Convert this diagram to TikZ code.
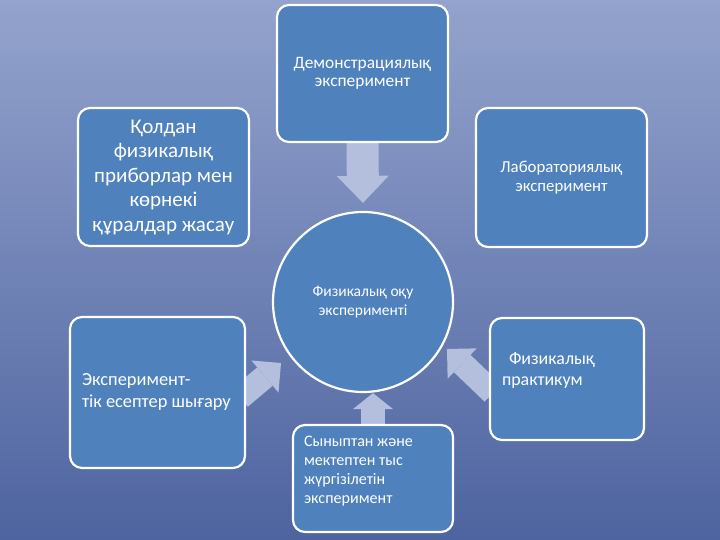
\documentclass[tikz,border=0pt]{standalone}
\usepackage{fontspec}
\setmainfont{Carlito}
\usetikzlibrary{arrows.meta, calc, positioning}
\definecolor{PanelBlue}{HTML}{4F81BD}
\definecolor{ArrowMist}{HTML}{B3BFDC}
\definecolor{SkyTop}{HTML}{94A3CD}
\definecolor{SkyBottom}{HTML}{4E64A0}
\pgfdeclarelayer{backdrop}
\pgfdeclarelayer{arrowlayer}
\pgfsetlayers{backdrop,arrowlayer,main}
\newcommand{\toptext}[5]{\parbox[c][#2][t]{#1}{\raggedright\leftskip=#4\relax\vspace*{#3}#5}}

\begin{document}
\begin{tikzpicture}[x=1pt, y=1pt,
    panel/.style={draw=white, line width=2.2pt, fill=PanelBlue, rounded corners=12pt,
                  text=white, inner sep=0pt},
    bigarrow/.style={draw=ArrowMist, line width=32pt,
                     -{Triangle[width=52pt, length=27pt, line width=0pt]}},
    smallarrow/.style={draw=ArrowMist, line width=24pt,
                       -{Triangle[width=42pt, length=21pt, line width=0pt]}},
    stubarrow/.style={draw=ArrowMist, line width=24pt,
                      -{Triangle[width=40pt, length=16pt, line width=0pt]}}]
    \useasboundingbox (0,0) rectangle (720,540);
    \begin{pgfonlayer}{backdrop}
        \shade[top color=SkyTop, bottom color=SkyBottom] (0,0) rectangle (720,540);
    \end{pgfonlayer}

    % centre and the six boxes
    \node[panel, circle, minimum size=180pt, align=center, font=\fontsize{15.5}{19}\selectfont] (hub) at (363,238)
        {Физикалық оқу\\эксперименті};
    \node[panel, minimum width=171pt, minimum height=137pt, align=center, font=\fontsize{17.4}{18.5}\selectfont] (demo) at (362.5,466.5)
        {Демонстрациялық\\эксперимент};
    \node[panel, minimum width=171pt, minimum height=138pt, align=center, font=\fontsize{21}{24.5}\selectfont] (tools) at (163.5,363)
        {Қолдан\\физикалық\\приборлар мен\\көрнекі\\құралдар жасау};
    \node[panel, minimum width=171pt, minimum height=139pt, align=center, font=\fontsize{16.8}{18.5}\selectfont] (lab) at (561.5,362.5)
        {Лабораториялық\\эксперимент};
    \node[panel, minimum width=175pt, minimum height=151pt] (tasks) at (157.5,147.5)
        {\toptext{175pt}{151pt}{57pt}{12pt}{\fontsize{18.4}{22}\selectfont Эксперимент-\\тік есептер шығару}};
    \node[panel, minimum width=154pt, minimum height=122pt] (prakt) at (567,161)
        {\toptext{154pt}{122pt}{34pt}{12pt}{\fontsize{17.9}{21.5}\selectfont\hspace*{7pt}Физикалық\\практикум}};
    \node[panel, minimum width=160pt, minimum height=107pt] (school) at (373,61.5)
        {\toptext{160pt}{107pt}{11pt}{11pt}{\fontsize{16.1}{19}\selectfont Сыныптан және\\мектептен тыс\\жүргізілетін\\эксперимент}};

    % block arrows towards the centre
    \begin{pgfonlayer}{arrowlayer}
        \draw[bigarrow] (demo.south) -- ($(hub.north)+(0,8)$);
        \draw[bigarrow, shorten <=78pt, shorten >=97pt] (tools) -- (hub);
        \draw[bigarrow, shorten <=78pt, shorten >=97pt] (lab) -- (hub);
        \draw[smallarrow] ($(tasks.east)+(-6,-5)$) -- ($(hub)+(-82,-61)$);
        \draw[smallarrow] ($(prakt.west)+(4,-14)$) -- ($(hub)+(84,-47)$);
        \draw[stubarrow] (school.north) -- (school.north |- hub.south);
    \end{pgfonlayer}
\end{tikzpicture}
\end{document}
